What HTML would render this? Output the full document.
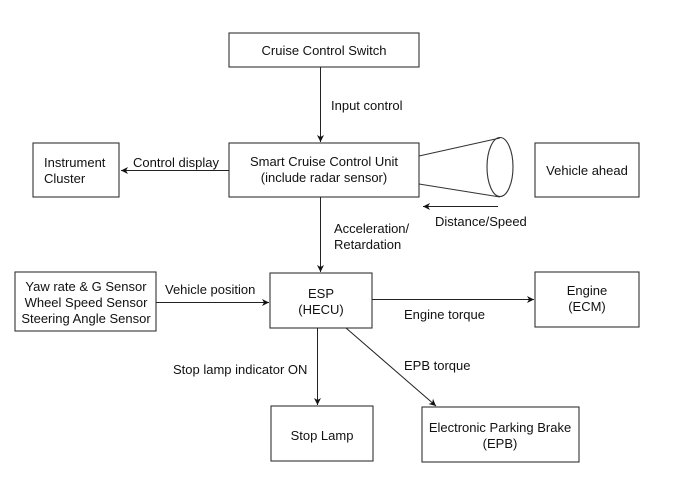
<!DOCTYPE html>
<html><head><meta charset="utf-8"><style>
html,body{margin:0;padding:0;background:#fff;width:700px;height:488px;overflow:hidden}
svg text{font-family:"Liberation Sans",Arial,sans-serif;font-size:13px;fill:#111}
</style></head><body>
<svg width="700" height="488" viewBox="0 0 700 488" xmlns="http://www.w3.org/2000/svg">
<defs><marker id="a" markerWidth="8" markerHeight="8" refX="7" refY="4" orient="auto" markerUnits="userSpaceOnUse"><path d="M0,0.5 L7,4 L0,7.5 L2,4 Z" fill="#111"/></marker></defs>
<g fill="none" stroke="#333" stroke-width="1.1">
<rect x="229" y="33" width="190" height="34"/>
<rect x="229" y="143" width="190" height="54"/>
<rect x="33" y="143" width="86" height="54"/>
<rect x="535" y="143" width="104" height="54"/>
<rect x="15" y="272" width="141" height="59"/>
<rect x="270" y="273" width="102" height="55"/>
<rect x="535" y="272" width="104" height="55"/>
<rect x="271" y="406" width="102" height="55"/>
<rect x="422" y="407" width="157" height="55"/>
<ellipse cx="500" cy="167" rx="13" ry="29.5"/>
<line x1="419" y1="156" x2="500" y2="138"/>
<line x1="419" y1="184" x2="500" y2="197"/>
</g>
<g stroke="#222" stroke-width="1" marker-end="url(#a)">
<line x1="320.5" y1="67" x2="320.5" y2="142"/>
<line x1="229" y1="170.5" x2="121" y2="170.5"/>
<line x1="498" y1="206.5" x2="423" y2="206.5"/>
<line x1="320.5" y1="197" x2="320.5" y2="272"/>
<line x1="156" y1="302.5" x2="269" y2="302.5"/>
<line x1="372" y1="299.5" x2="534" y2="299.5"/>
<line x1="317.5" y1="328" x2="317.5" y2="405"/>
<line x1="346" y1="328" x2="436" y2="406"/>
</g>
<text x="324" y="55" text-anchor="middle">Cruise Control Switch</text>
<text x="331" y="110">Input control</text>
<text x="324" y="166" text-anchor="middle">Smart Cruise Control Unit</text>
<text x="324" y="182" text-anchor="middle">(include radar sensor)</text>
<text x="44" y="167">Instrument</text>
<text x="44" y="183">Cluster</text>
<text x="133" y="167">Control display</text>
<text x="587" y="175" text-anchor="middle">Vehicle ahead</text>
<text x="435" y="226">Distance/Speed</text>
<text x="334" y="233">Acceleration/</text>
<text x="334" y="249">Retardation</text>
<text x="86" y="291" text-anchor="middle">Yaw rate &amp; G Sensor</text>
<text x="86" y="307" text-anchor="middle">Wheel Speed Sensor</text>
<text x="86" y="323" text-anchor="middle">Steering Angle Sensor</text>
<text x="165" y="294">Vehicle position</text>
<text x="321" y="298" text-anchor="middle">ESP</text>
<text x="321" y="314" text-anchor="middle">(HECU)</text>
<text x="587" y="295" text-anchor="middle">Engine</text>
<text x="587" y="311" text-anchor="middle">(ECM)</text>
<text x="404" y="319">Engine torque</text>
<text x="173" y="374">Stop lamp indicator ON</text>
<text x="404" y="370">EPB torque</text>
<text x="322" y="440" text-anchor="middle">Stop Lamp</text>
<text x="500" y="432" text-anchor="middle">Electronic Parking Brake</text>
<text x="500" y="448" text-anchor="middle">(EPB)</text>
</svg>
</body></html>
